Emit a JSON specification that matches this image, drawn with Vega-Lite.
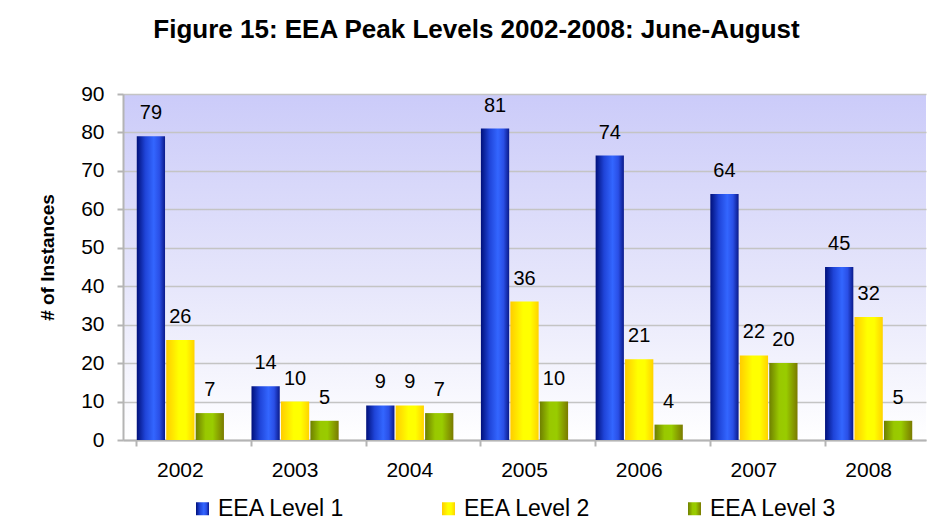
{
  "$schema": "https://vega.github.io/schema/vega-lite/v6.json",
  "autosize": {"type": "none"},
  "width": 803,
  "height": 346,
  "padding": {"left": 123, "top": 94, "right": 25, "bottom": 87},
  "background": "#ffffff",
  "params": [
    {"name": "gBlue", "value": {"gradient": "linear", "x1": 0, "y1": 0, "x2": 1, "y2": 0,
      "stops": [
        {"offset": 0, "color": "#00107a"},
        {"offset": 0.3, "color": "#1f44d8"},
        {"offset": 0.6, "color": "#3366ff"},
        {"offset": 0.8, "color": "#2a4fe6"},
        {"offset": 1, "color": "#0a1a8a"}
      ]}},
    {"name": "gYellow", "value": {"gradient": "linear", "x1": 0, "y1": 0, "x2": 1, "y2": 0,
      "stops": [
        {"offset": 0, "color": "#ffcc00"},
        {"offset": 0.45, "color": "#ffff00"},
        {"offset": 0.7, "color": "#ffff00"},
        {"offset": 1, "color": "#ffd200"}
      ]}},
    {"name": "gGreen", "value": {"gradient": "linear", "x1": 0, "y1": 0, "x2": 1, "y2": 0,
      "stops": [
        {"offset": 0, "color": "#6f7f00"},
        {"offset": 0.35, "color": "#99c800"},
        {"offset": 0.6, "color": "#99cc00"},
        {"offset": 1, "color": "#7a7a00"}
      ]}}
  ],
  "title": {
    "text": "Figure 15: EEA Peak Levels 2002-2008: June-August",
    "font": "Liberation Sans",
    "fontSize": 26,
    "fontWeight": "bold",
    "color": "#000000",
    "anchor": "middle",
    "frame": "group",
    "dx": -48,
    "offset": 40
  },
  "data": {
    "values": [
      {"year": "2002", "level": "EEA Level 1", "count": 79},
      {"year": "2002", "level": "EEA Level 2", "count": 26},
      {"year": "2002", "level": "EEA Level 3", "count": 7},
      {"year": "2003", "level": "EEA Level 1", "count": 14},
      {"year": "2003", "level": "EEA Level 2", "count": 10},
      {"year": "2003", "level": "EEA Level 3", "count": 5},
      {"year": "2004", "level": "EEA Level 1", "count": 9},
      {"year": "2004", "level": "EEA Level 2", "count": 9},
      {"year": "2004", "level": "EEA Level 3", "count": 7},
      {"year": "2005", "level": "EEA Level 1", "count": 81},
      {"year": "2005", "level": "EEA Level 2", "count": 36},
      {"year": "2005", "level": "EEA Level 3", "count": 10},
      {"year": "2006", "level": "EEA Level 1", "count": 74},
      {"year": "2006", "level": "EEA Level 2", "count": 21},
      {"year": "2006", "level": "EEA Level 3", "count": 4},
      {"year": "2007", "level": "EEA Level 1", "count": 64},
      {"year": "2007", "level": "EEA Level 2", "count": 22},
      {"year": "2007", "level": "EEA Level 3", "count": 20},
      {"year": "2008", "level": "EEA Level 1", "count": 45},
      {"year": "2008", "level": "EEA Level 2", "count": 32},
      {"year": "2008", "level": "EEA Level 3", "count": 5}
    ]
  },
  "encoding": {
    "x": {
      "field": "year",
      "type": "nominal",
      "scale": {"paddingInner": 0.24, "paddingOuter": 0.12},
      "axis": {
        "title": null,
        "labelAngle": 0,
        "labelFont": "Liberation Sans",
        "labelFontSize": 21,
        "labelColor": "#000000",
        "labelPadding": 13,
        "domainColor": "#b4b4b4",
        "domainWidth": 2,
        "tickColor": "#b4b4b4",
        "tickWidth": 2,
        "tickSize": 6,
        "bandPosition": 0,
        "grid": false
      }
    },
    "xOffset": {
      "field": "level",
      "type": "nominal",
      "scale": {"paddingInner": 0.04}
    },
    "y": {
      "field": "count",
      "type": "quantitative",
      "scale": {"domain": [0, 90], "nice": false},
      "axis": {
        "title": "# of Instances",
        "titleFont": "Liberation Sans",
        "titleFontSize": 19,
        "titleFontWeight": "bold",
        "titleColor": "#000000",
        "titleX": -66,
        "titleY": 163,
        "values": [0, 10, 20, 30, 40, 50, 60, 70, 80, 90],
        "labelFont": "Liberation Sans",
        "labelFontSize": 21,
        "labelColor": "#000000",
        "labelPadding": 13,
        "domainColor": "#b4b4b4",
        "domainWidth": 2,
        "tickColor": "#b4b4b4",
        "tickWidth": 2,
        "tickSize": 6,
        "gridColor": "#c4c4c4",
        "gridWidth": 1.5
      }
    }
  },
  "layer": [
    {
      "mark": {
        "type": "bar",
        "strokeWidth": 0,
        "fill": {"expr": "(datum.level || datum.value) === 'EEA Level 1' ? gBlue : (datum.level || datum.value) === 'EEA Level 2' ? gYellow : gGreen"}
      },
      "encoding": {
        "stroke": {
          "field": "level",
          "type": "nominal",
          "scale": {
            "domain": ["EEA Level 1", "EEA Level 2", "EEA Level 3"],
            "range": ["#2a4fe6", "#ffee00", "#8fb000"]
          },
          "legend": {
            "title": null,
            "orient": "none",
            "direction": "horizontal",
            "legendX": 68,
            "legendY": 403,
            "symbolType": "square",
            "symbolSize": 169,
            "symbolStrokeWidth": 0,
            "labelFont": "Liberation Sans",
            "labelFontSize": 23,
            "labelColor": "#000000",
            "labelOffset": 4,
            "columnPadding": 92,
            "encode": {
              "symbols": {
                "update": {
                  "strokeOpacity": {"value": 0},
                  "strokeWidth": {"value": 0},
                  "opacity": {"value": 1}
                }
              }
            }
          }
        }
      }
    },
    {
      "mark": {
        "type": "text",
        "baseline": "alphabetic",
        "dy": -17,
        "font": "Liberation Sans",
        "fontSize": 20,
        "color": "#000000"
      },
      "encoding": {
        "text": {"field": "count", "type": "quantitative"}
      }
    }
  ],
  "config": {
    "view": {
      "stroke": null,
      "fill": {"gradient": "linear", "x1": 0, "y1": 0, "x2": 0, "y2": 1,
               "stops": [
                 {"offset": 0, "color": "#cbcbf9"},
                 {"offset": 0.55, "color": "#e6e6fb"},
                 {"offset": 1, "color": "#ffffff"}
               ]}
    }
  }
}
